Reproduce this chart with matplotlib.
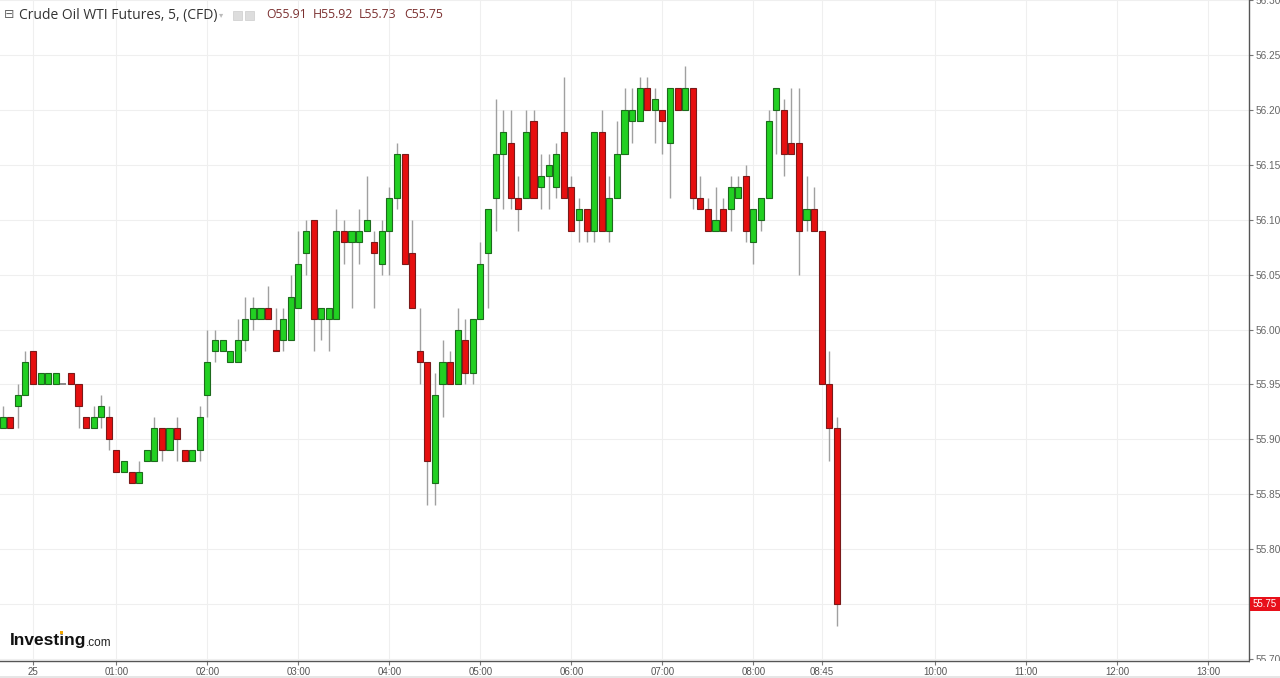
import matplotlib
matplotlib.use("Agg")
import matplotlib.pyplot as plt
from matplotlib.patches import Rectangle

# ---------------- data (5-minute candles) ----------------
opens = [55.91, 55.92, 55.93, 55.94, 55.98, 55.95, 55.95, 55.95, 55.95, 55.96,
         55.95, 55.92, 55.91, 55.92, 55.92, 55.89, 55.87, 55.87, 55.86, 55.88,
         55.88, 55.91, 55.89, 55.91, 55.89, 55.88, 55.89, 55.94, 55.98, 55.98,
         55.97, 55.97, 55.99, 56.01, 56.01, 56.02, 56.00, 55.99, 55.99, 56.02,
         56.07, 56.10, 56.01, 56.01, 56.01, 56.09, 56.08, 56.08, 56.09, 56.08,
         56.06, 56.09, 56.12, 56.16, 56.07, 55.98, 55.97, 55.86, 55.95, 55.97,
         55.95, 55.99, 55.96, 56.01, 56.07, 56.12, 56.16, 56.17, 56.12, 56.12,
         56.19, 56.13, 56.14, 56.13, 56.18, 56.13, 56.10, 56.11, 56.09, 56.18,
         56.09, 56.12, 56.16, 56.19, 56.19, 56.22, 56.20, 56.20, 56.17, 56.22,
         56.20, 56.22, 56.12, 56.11, 56.09, 56.11, 56.11, 56.12, 56.14, 56.08,
         56.10, 56.12, 56.20, 56.20, 56.17, 56.17, 56.10, 56.11, 56.09, 55.95,
         55.91]
closes = [55.92, 55.91, 55.94, 55.97, 55.95, 55.96, 55.96, 55.96, 55.95, 55.95,
          55.93, 55.91, 55.92, 55.93, 55.90, 55.87, 55.88, 55.86, 55.87, 55.89,
          55.91, 55.89, 55.91, 55.90, 55.88, 55.89, 55.92, 55.97, 55.99, 55.99,
          55.98, 55.99, 56.01, 56.02, 56.02, 56.01, 55.98, 56.01, 56.03, 56.06,
          56.09, 56.01, 56.02, 56.02, 56.09, 56.08, 56.09, 56.09, 56.10, 56.07,
          56.09, 56.12, 56.16, 56.06, 56.02, 55.97, 55.88, 55.94, 55.97, 55.95,
          56.00, 55.96, 56.01, 56.06, 56.11, 56.16, 56.18, 56.12, 56.11, 56.18,
          56.12, 56.14, 56.15, 56.16, 56.12, 56.09, 56.11, 56.09, 56.18, 56.09,
          56.12, 56.16, 56.20, 56.20, 56.22, 56.20, 56.21, 56.19, 56.22, 56.20,
          56.22, 56.12, 56.11, 56.09, 56.10, 56.09, 56.13, 56.13, 56.09, 56.11,
          56.12, 56.19, 56.22, 56.16, 56.16, 56.09, 56.11, 56.09, 55.95, 55.91,
          55.75]
highs = [55.93, 55.92, 55.95, 55.98, 55.98, 55.96, 55.96, 55.96, 55.95, 55.96,
         55.95, 55.92, 55.93, 55.94, 55.93, 55.89, 55.88, 55.87, 55.88, 55.89,
         55.92, 55.91, 55.91, 55.92, 55.89, 55.89, 55.93, 56.00, 56.00, 55.99,
         55.98, 56.01, 56.03, 56.03, 56.02, 56.04, 56.02, 56.02, 56.05, 56.09,
         56.10, 56.10, 56.02, 56.02, 56.11, 56.10, 56.09, 56.11, 56.14, 56.09,
         56.10, 56.13, 56.17, 56.16, 56.10, 56.02, 55.97, 55.96, 55.99, 55.98,
         56.02, 56.01, 56.01, 56.08, 56.11, 56.21, 56.20, 56.20, 56.14, 56.20,
         56.20, 56.16, 56.16, 56.17, 56.23, 56.14, 56.12, 56.11, 56.18, 56.20,
         56.14, 56.19, 56.22, 56.22, 56.23, 56.23, 56.22, 56.20, 56.22, 56.22,
         56.24, 56.22, 56.14, 56.12, 56.13, 56.12, 56.14, 56.14, 56.15, 56.11,
         56.12, 56.20, 56.22, 56.21, 56.22, 56.22, 56.14, 56.13, 56.09, 55.98,
         55.92]
lows = [55.91, 55.91, 55.91, 55.94, 55.95, 55.95, 55.95, 55.95, 55.95, 55.95,
        55.91, 55.91, 55.91, 55.91, 55.89, 55.87, 55.87, 55.86, 55.86, 55.88,
        55.88, 55.88, 55.89, 55.88, 55.88, 55.88, 55.88, 55.92, 55.97, 55.98,
        55.97, 55.97, 55.98, 56.00, 56.01, 56.01, 55.98, 55.98, 55.99, 56.02,
        56.05, 55.98, 55.99, 55.98, 56.01, 56.06, 56.02, 56.06, 56.09, 56.02,
        56.05, 56.05, 56.11, 56.06, 56.02, 55.95, 55.84, 55.84, 55.92, 55.95,
        55.95, 55.95, 55.95, 56.01, 56.02, 56.09, 56.11, 56.11, 56.09, 56.12,
        56.12, 56.11, 56.11, 56.12, 56.12, 56.09, 56.08, 56.08, 56.08, 56.09,
        56.08, 56.12, 56.16, 56.17, 56.19, 56.20, 56.17, 56.16, 56.12, 56.20,
        56.20, 56.11, 56.11, 56.09, 56.09, 56.09, 56.09, 56.12, 56.08, 56.06,
        56.09, 56.12, 56.16, 56.14, 56.16, 56.05, 56.09, 56.09, 55.95, 55.88,
        55.73]

tick_labels = ['25', '01:00', '02:00', '03:00', '04:00', '05:00', '06:00',
               '07:00', '08:00', '08:45', '10:00', '11:00', '12:00', '13:00']
tick_candles = [4, 15, 27, 39, 51, 63, 75, 87, 99, 108, 123, 135, 147, 159]
price_ticks = [55.70, 55.75, 55.80, 55.85, 55.90, 55.95, 56.00,
               56.05, 56.10, 56.15, 56.20, 56.25, 56.30]
title = 'Crude Oil WTI Futures, 5, (CFD)'
ohlc_labels = ['O55.91', 'H55.92', 'L55.73', 'C55.75']
last_price = 55.75

# ---------------- figure ----------------
W, H = 1280, 678
fig = plt.figure(figsize=(W / 100, H / 100), dpi=100)
fig.patch.set_facecolor('white')
ax = fig.add_axes([0, 17 / H, 1249 / W, 661 / H])
ax.set_facecolor('white')

GREEN, GREEN_E = '#22d022', '#1d6b1d'
RED, RED_E = '#e60f0f', '#7a1a1a'

xs = list(range(len(opens)))
ax.vlines(xs, lows, highs, color='#a0a0a0', linewidth=1, zorder=2)
for i in xs:
    o, c = opens[i], closes[i]
    if c == o:
        ax.hlines(o, i - 0.4, i + 0.4, color='#777777', linewidth=1.2,
                  zorder=3)
        continue
    up = c > o
    ax.bar(i, abs(c - o), bottom=min(o, c), width=0.8,
           color=GREEN if up else RED,
           edgecolor=GREEN_E if up else RED_E,
           linewidth=0.8, zorder=3)

ax.set_xlim(-0.356, 164.35)
ax.set_ylim(55.6981, 56.3001)

ax.set_xticks(tick_candles)
ax.set_xticklabels(tick_labels)
ax.set_yticks(price_ticks)
# the last-price tag replaces the 55.75 tick label, as in the reference
ax.set_yticklabels(['' if abs(p - last_price) < 1e-9 else f'{p:.2f}'
                    for p in price_ticks])
ax.yaxis.tick_right()
ax.grid(True, color='#efefef', linewidth=0.8, zorder=0)
ax.set_axisbelow(True)

for s in ['top', 'left']:
    ax.spines[s].set_visible(False)
for s in ['right', 'bottom']:
    ax.spines[s].set_color('#555555')
    ax.spines[s].set_linewidth(1)

ax.tick_params(axis='x', length=3, width=0.8, color='#777777', pad=1.5,
               labelsize=7, labelcolor='#555555')
ax.tick_params(axis='y', length=3, width=0.8, color='#777777', pad=2,
               labelsize=7.3, labelcolor='#666666')
for lab in ax.get_xticklabels() + ax.get_yticklabels():
    lab.set_fontfamily('Liberation Sans')

# mask below the plot on the right (cuts the 55.70 label like the reference)
fig.patches.append(Rectangle((1249.5 / W, 0), 1 - 1249.5 / W, 17 / H,
                             transform=fig.transFigure, facecolor='white',
                             edgecolor='none', zorder=5))
# light strip at the very bottom
fig.patches.append(Rectangle((0, 0), 1, 2 / H, transform=fig.transFigure,
                             facecolor='#e6e6e6', edgecolor='none', zorder=6))

# last price label
ylab = ax.transData.transform((0, last_price))[1] / H
fig.patches.append(Rectangle((1250 / W, ylab - 7 / H), 30 / W, 14 / H,
                             transform=fig.transFigure, facecolor='#e8101a',
                             edgecolor='none', zorder=7))
fig.text(1265 / W, ylab, f'{last_price:.2f}', color='white', fontsize=7,
         ha='center', va='center', family='Liberation Sans', zorder=8)

# title line
ty = 1 - 15 / H
fig.text(4 / W, ty, '\u229f', fontsize=9, color='#666666', va='center',
         family='DejaVu Sans')
fig.text(19 / W, ty, title, fontsize=10, color='#333333', va='center',
         family='Open Sans')
fig.text(219 / W, ty, '\u25be', fontsize=6, color='#bbbbbb', va='center',
         family='DejaVu Sans')
for x0 in (233, 245):
    fig.patches.append(Rectangle((x0 / W, 1 - 20 / H), 9 / W, 9 / H,
                                 transform=fig.transFigure,
                                 facecolor='#dddddd', edgecolor='#cccccc',
                                 linewidth=0.5, zorder=5))
for xpos, txt in zip([266, 313, 359, 404], ohlc_labels):
    fig.text(xpos / W, ty, txt, fontsize=8.8, color='#7b3030', va='center',
             family='Open Sans')

# logo
fig.text(10 / W, 1 - 641 / H, 'Investing', fontsize=12.5, fontweight='bold',
         color='#111111', va='center', family='Liberation Sans')
fig.text(86 / W, 1 - 643 / H, '.com', fontsize=8.5, color='#222222',
         va='center', family='Liberation Sans')
fig.patches.append(Rectangle((60 / W, 1 - 634 / H), 3 / W, 3 / H,
                             transform=fig.transFigure, facecolor='#f5a800',
                             edgecolor='none', zorder=6))

fig.savefig('out.png', dpi=100)
